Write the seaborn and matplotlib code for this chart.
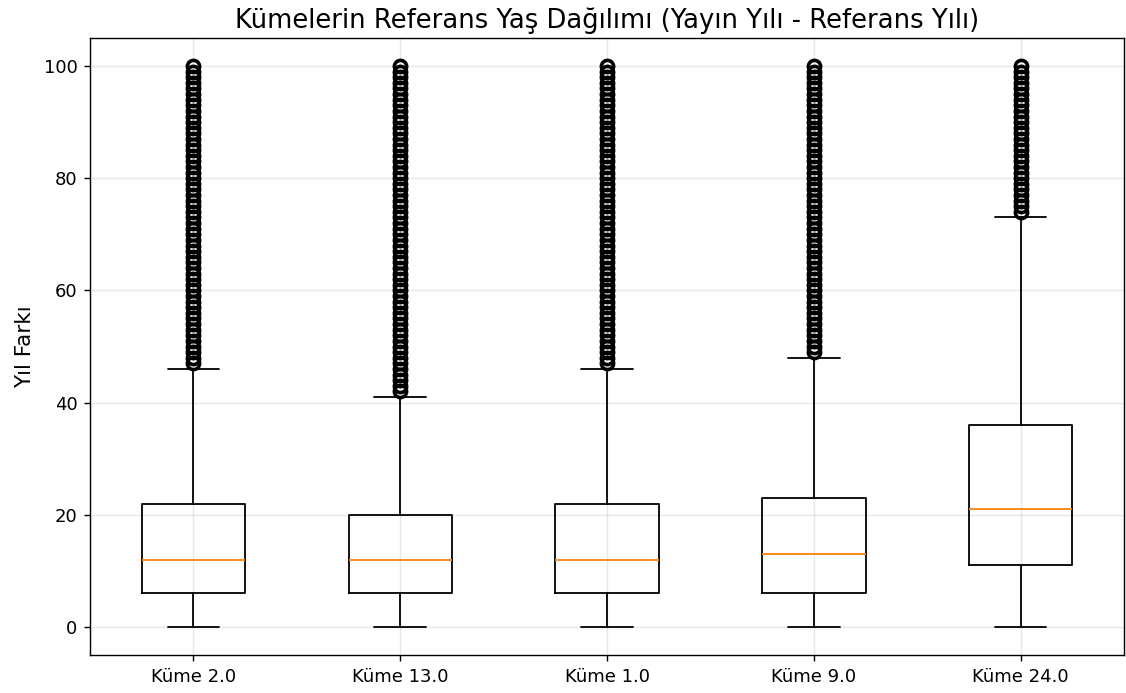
import matplotlib
matplotlib.use("Agg")
import matplotlib.pyplot as plt
import seaborn as sns

categories = ["Küme 2.0", "Küme 13.0", "Küme 1.0", "Küme 9.0", "Küme 24.0"]
whislo = [0, 0, 0, 0, 0]
q1 = [6, 6, 6, 6, 11]
med = [12, 12, 12, 13, 21]
q3 = [22, 20, 22, 23, 36]
whishi = [46, 41, 46, 48, 73]
flier_max = [100, 100, 100, 100, 100]

sns.set_theme(style="ticks", rc={
    "axes.facecolor": "white", "figure.facecolor": "white",
    "axes.edgecolor": "black", "axes.linewidth": 1.0,
    "xtick.color": "black", "ytick.color": "black",
    "axes.labelcolor": "black", "text.color": "black",
})
plt.rcParams['font.family'] = ['DejaVu Sans']

fig = plt.figure(figsize=(11.26, 6.93), dpi=100)
ax = fig.add_axes([90/1126, 38/693, (1124-90)/1126, (655-38)/693])

stats = []
for i, c in enumerate(categories):
    stats.append(dict(
        label=c, whislo=whislo[i], q1=q1[i], med=med[i], q3=q3[i], whishi=whishi[i],
        fliers=list(range(whishi[i] + 1, flier_max[i] + 1)),
    ))

ax.bxp(stats, widths=0.5,
       boxprops=dict(color="black", linewidth=1.3),
       whiskerprops=dict(color="black", linewidth=1.3),
       capprops=dict(color="black", linewidth=1.3),
       medianprops=dict(color="#ff7f0e", linewidth=1.3),
       flierprops=dict(marker="o", markerfacecolor="none", markeredgecolor="black",
                       markersize=8.8, markeredgewidth=2.6))

ax.set_ylim(-5, 105)
ax.set_xlim(0.5, 5.5)
ax.set_yticks([0, 20, 40, 60, 80, 100])
ax.tick_params(axis="both", labelsize=13, length=4.5, width=1.0, direction="out", pad=4.5)
ax.grid(True, alpha=0.3, color="#b0b0b0", linewidth=1.0)
ax.set_axisbelow(True)
ax.set_ylabel("Yıl Farkı", fontsize=15.5, labelpad=6)
ax.set_title("Kümelerin Referans Yaş Dağılımı (Yayın Yılı - Referans Yılı)", fontsize=18.6, pad=7)

fig.savefig("out.png", dpi=100)
